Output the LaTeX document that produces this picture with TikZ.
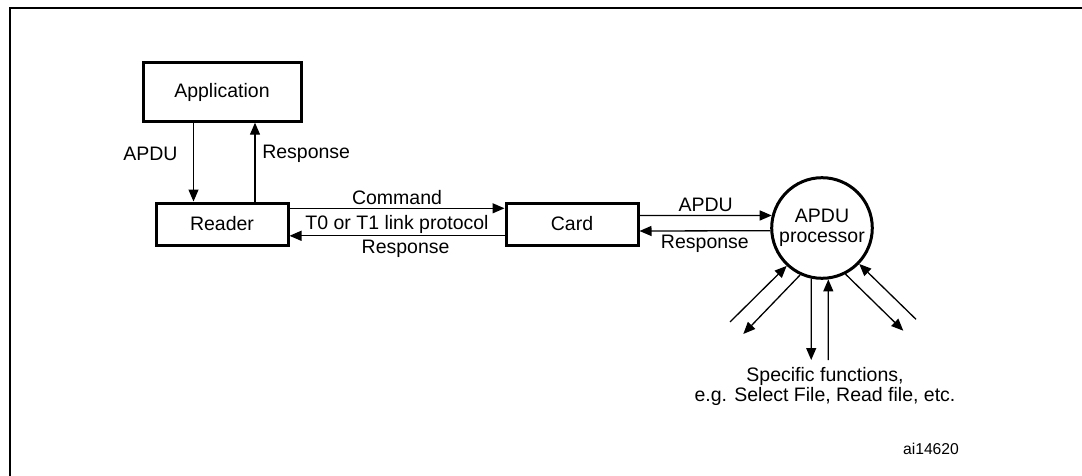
\documentclass[tikz,border=0pt]{standalone}
\usepackage{fontspec}
\setmainfont{Liberation Sans}
\usetikzlibrary{arrows.meta,calc}
\begin{document}
\begin{tikzpicture}[x=1pt,y=-1pt,font=\fontsize{19.5}{20}\selectfont]
     \tikzstyle{box}=[draw, line width=3pt, inner sep=0pt, text height=14pt, text depth=2pt]
     \tikzstyle{flow}=[line width=1.3pt, -{Triangle[length=12pt,width=10pt]}]
     \useasboundingbox (0,0) rectangle (1082,476);
     \draw[line width=2.4pt] (10,476) -- (10,8) -- (1082,8);
     \node[box, minimum width=158pt, minimum height=59pt] (app) at (222,91.7) {Application};
     \node[box, minimum width=132pt, minimum height=42pt] (reader) at (222,224) {Reader};
     \node[box, minimum width=132pt, minimum height=42pt] (card) at (572,224) {Card};
     \node[draw, circle, line width=3pt, minimum size=100.6pt, inner sep=0pt, align=center] (proc) at (822,228) {APDU\\processor};
     \node[anchor=north, inner sep=0pt, align=center] (funcs) at (825,367.5) {Specific functions,\\e.g. Select File, Read file, etc.};
     \node[font=\fontsize{15.7}{18}\selectfont] (ref) at (931,449) {ai14620};
     \coordinate (f1) at (730,322);
     \coordinate (f2) at (743.3,334);
     \coordinate (f3) at (811.2,360);
     \coordinate (f4) at (828.3,360);
     \coordinate (f5) at (903.3,330.7);
     \coordinate (f6) at (916,319.3);
     \draw[flow] ([xshift=-28.5pt]app.south) -- ([xshift=-28.5pt]reader.north)
          node[pos=0.39, left=12pt] {APDU};
     \draw[flow] ([xshift=33pt]reader.north) -- ([xshift=33pt]app.south)
          node[pos=0.61, right=3.3pt] {Response};
     \draw[flow] ([yshift=15.7pt]reader.east) -- ([yshift=15.7pt]card.west)
          node[midway, above] {Command};
     \draw[flow] ([yshift=-11.8pt]card.west) -- ([yshift=-11.8pt]reader.east)
          node[pos=0.46, below] {Response};
     \node (link) at ($(reader.east)!0.5!(card.west)$) {T0 or T1 link protocol};
     \draw[flow] ([yshift=8.5pt]card.east) -- (proc.166)
          node[midway, above] {APDU};
     \draw[flow] (proc.183) -- ([yshift=-7pt]card.east)
          node[midway, below] {Response};
     \draw[flow] (f1) -- (proc.227);
     \draw[flow] (proc.245) -- (f2);
     \draw[flow] (proc.258) -- (f3);
     \draw[flow] (f4) -- (proc.277);
     \draw[flow] (proc.297) -- (f5);
     \draw[flow] (f6) -- (proc.316);
\end{tikzpicture}
\end{document}
